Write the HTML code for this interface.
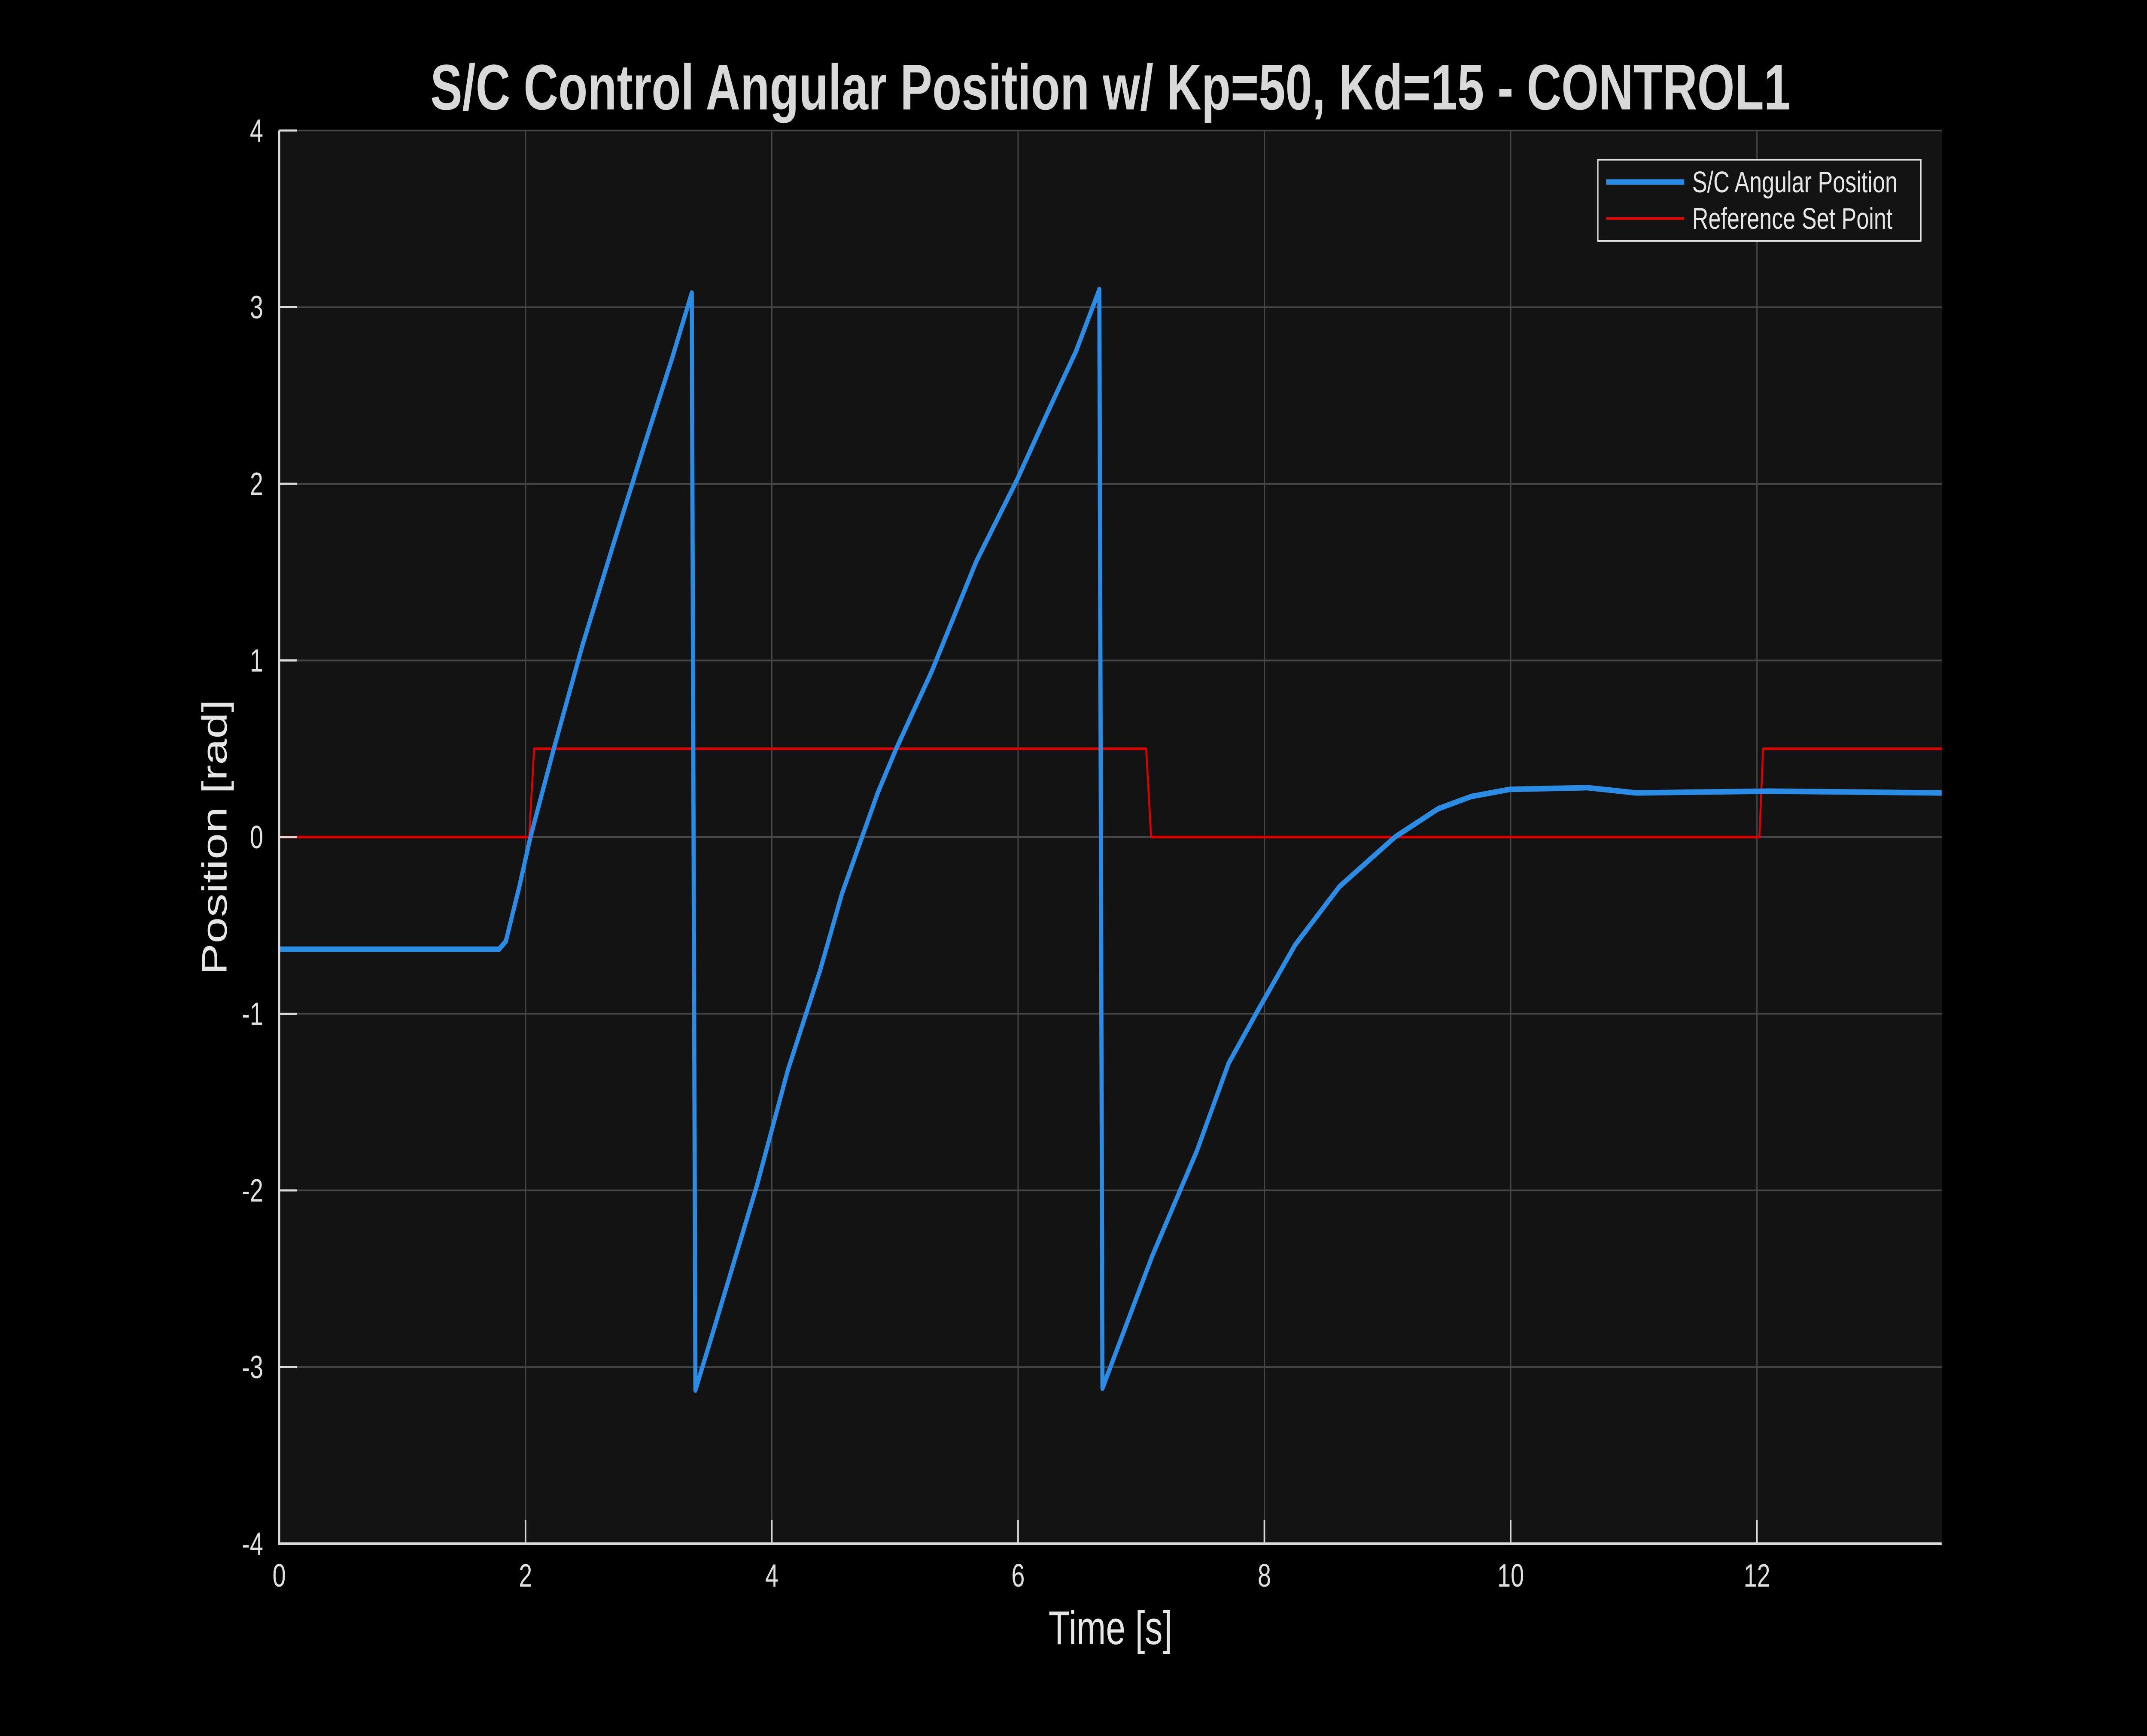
<!DOCTYPE html>
<html><head><meta charset="utf-8"><style>
html,body{margin:0;padding:0;background:#000;width:100%;height:100%;overflow:hidden;}
svg{display:block;font-family:"Liberation Sans",Arial,sans-serif;width:100vw;height:100vh;}
</style></head><body>
<svg id="chart" viewBox="0 0 6713 4044" preserveAspectRatio="none">
<rect width="6713" height="4044" fill="#000"/>
<rect x="873" y="304" width="5198" height="3292" fill="#131313"/>
<g id="grid"></g>
<g id="series"></g>
<g id="axes"></g>
<text x="3472" y="255" fill="#d9d9d9" font-size="150" font-weight="bold" text-anchor="middle">S/C Control Angular Position w/ Kp=50, Kd=15 - CONTROL1</text>
<text x="3472" y="3830" fill="#e6e6e6" font-size="110" text-anchor="middle">Time [s]</text>
<text x="0" y="0" transform="translate(708,1950) rotate(-90)" fill="#e6e6e6" font-size="110" text-anchor="middle">Position [rad]</text>
<g>
<rect x="4996" y="372" width="1010" height="189" fill="#131313" stroke="#e0e0e0" stroke-width="4"/>
<line x1="5022" y1="424" x2="5266" y2="424" stroke="#2b8ce6" stroke-width="13"/>
<text x="5291" y="448" fill="#e6e6e6" font-size="70">S/C Angular Position</text>
<line x1="5022" y1="509" x2="5266" y2="509" stroke="#e00000" stroke-width="6"/>
<text x="5291" y="533" fill="#e6e6e6" font-size="70">Reference Set Point</text>
</g>
</svg>
<script>
const xTicks=[0,2,4,6,8,10,12];
const yTicks=[-4,-3,-2,-1,0,1,2,3,4];
const posT=[0,1.785,1.84,1.95,2.04,2.23,2.46,2.71,2.97,3.19,3.35,3.38,3.515,3.88,4.13,4.39,4.57,4.86,5.01,5.3,5.66,5.99,6.25,6.47,6.66,6.685,7.09,7.45,7.71,7.94,8.25,8.61,9.06,9.41,9.68,9.99,10.62,11.02,12.1,13.5];
const posY=[-0.635,-0.635,-0.59,-0.28,0,0.5,1.08,1.65,2.23,2.71,3.08,-3.13,-2.82,-1.97,-1.32,-0.76,-0.32,0.25,0.5,0.94,1.56,2.02,2.42,2.75,3.1,-3.12,-2.37,-1.78,-1.28,-0.99,-0.61,-0.28,0,0.16,0.23,0.27,0.28,0.25,0.26,0.25];
const refT=[0,2.03,2.07,7.04,7.08,12.02,12.05,13.5];
const refY=[0,0,0.5,0.5,0,0,0.5,0.5];
const L=873,R=6071,T=304,B=3596,X0=0,X1=13.5,Y0=-4,Y1=4;
const NS='http://www.w3.org/2000/svg';
function sx(v){return L+(v-X0)/(X1-X0)*(R-L);}
function sy(v){return B-(v-Y0)/(Y1-Y0)*(B-T);}
function mk(tag,attrs,parent){const e=document.createElementNS(NS,tag);for(const k in attrs)e.setAttribute(k,attrs[k]);parent.appendChild(e);return e;}
const grid=document.getElementById('grid'),axes=document.getElementById('axes'),ser=document.getElementById('series');
xTicks.forEach(v=>{
 const g=mk('line',{x1:sx(v),x2:sx(v),y1:T,y2:B,stroke:'#464646','stroke-width':4},grid);
 
 
 const t=mk('line',{x1:sx(v),x2:sx(v),y1:B,y2:B-55,stroke:'#d9d9d9','stroke-width':5},axes);
 
 
 const l=mk('text',{x:sx(v),y:B+100,fill:'#e0e0e0','font-size':75,'text-anchor':'middle'},axes);
 l.textContent=v;
 
 
});
yTicks.forEach(v=>{
 const g=mk('line',{x1:L,x2:R,y1:sy(v),y2:sy(v),stroke:'#464646','stroke-width':4},grid);
 
 
 const t=mk('line',{x1:L,x2:L+55,y1:sy(v),y2:sy(v),stroke:'#d9d9d9','stroke-width':5},axes);
 
 
 const l=mk('text',{x:L-50,y:sy(v)+26,fill:'#e0e0e0','font-size':75,'text-anchor':'end'},axes);
 l.textContent=v;
 
 
});
const ax=mk('path',{d:`M${L},${T} L${L},${B} L${R},${B}`,fill:'none',stroke:'#d9d9d9','stroke-width':6},axes);


function pts(ts,ys){return ts.map((t,i)=>sx(t).toFixed(1)+','+sy(ys[i]).toFixed(1)).join(' ');}
const r=mk('polyline',{points:pts(refT,refY),fill:'none',stroke:'#e00000','stroke-width':6,'stroke-linejoin':'round'},ser);


const p=mk('polyline',{points:pts(posT,posY),fill:'none',stroke:'#2b8ce6','stroke-width':13,'stroke-linejoin':'round'},ser);


</script>
</body></html>
